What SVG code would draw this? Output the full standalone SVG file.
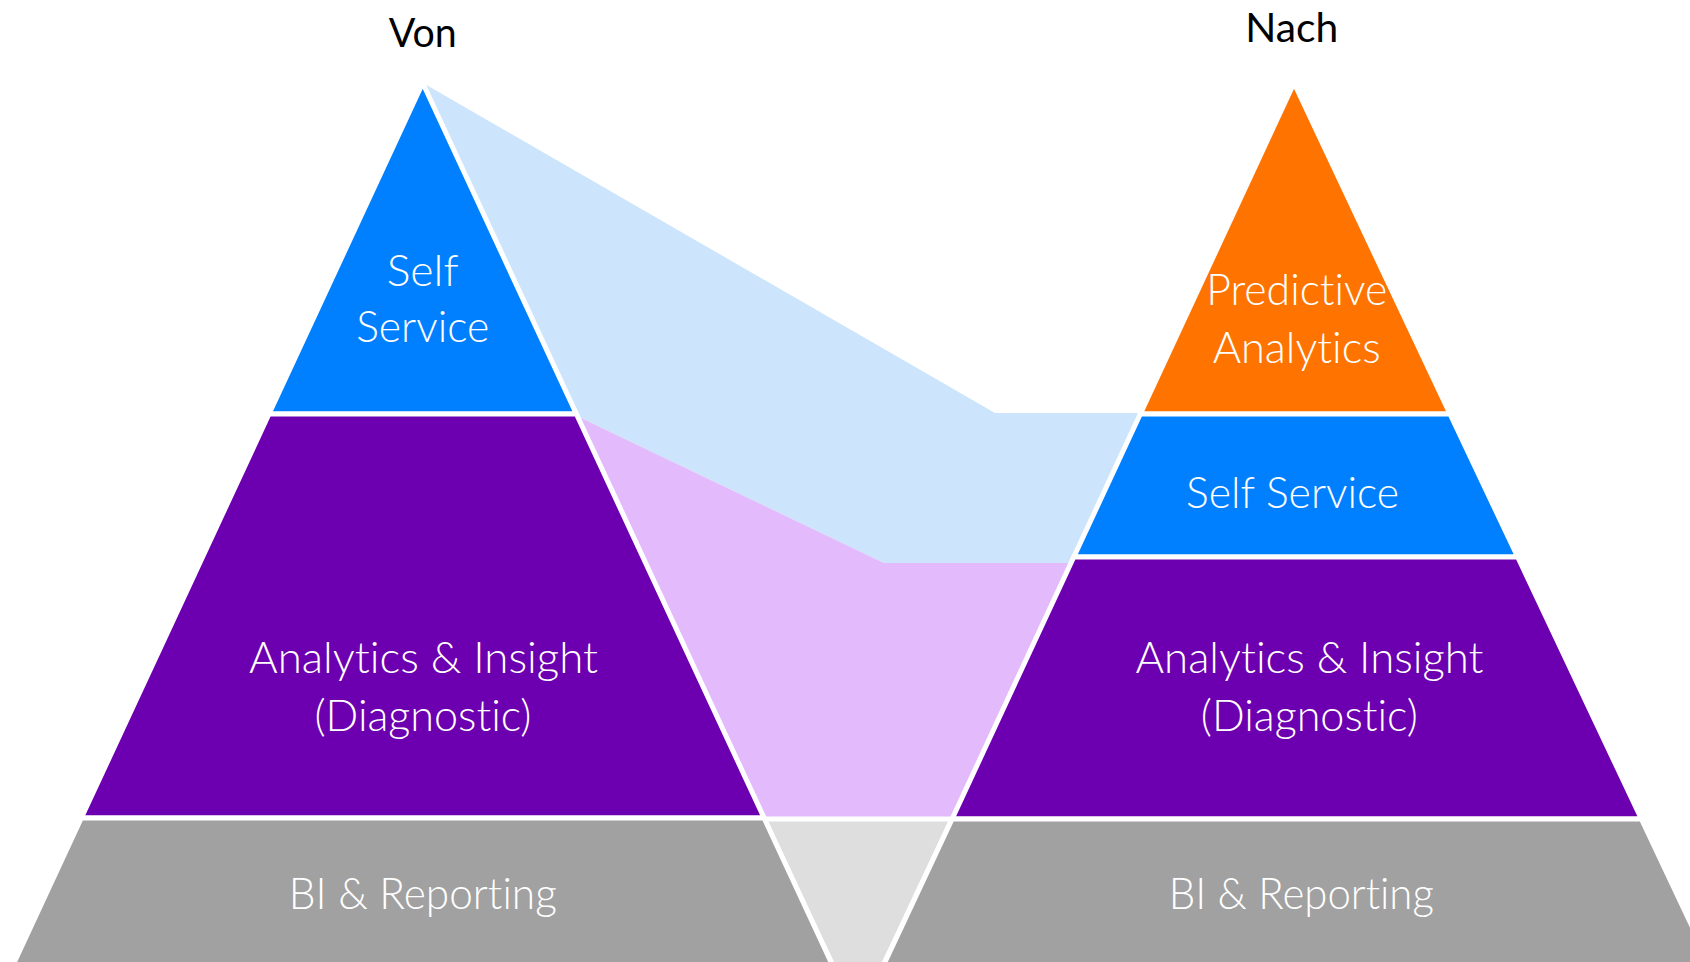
<svg xmlns="http://www.w3.org/2000/svg" width="1690" height="962" viewBox="0 0 1690 962">
<style>
.band{stroke:#fff;stroke-width:5;stroke-linejoin:miter}
.flow{stroke:none}
.lbl{font-family:Lato,"Liberation Sans",Arial,sans-serif;font-weight:300;font-size:43px;fill:#fff;text-anchor:middle;font-variant-ligatures:none}
.ttl{font-family:Lato,"Liberation Sans",Arial,sans-serif;font-weight:400;font-size:41px;fill:#000;text-anchor:middle;font-variant-ligatures:none}
</style>
<rect x="0" y="0" width="1690" height="962" fill="#fff"/>
<g id="connectors">
  <polygon class="flow" points="423,83 995,413 1141,413 1073,563 884,563 579,417" fill="#CCE5FC"/>
  <polygon class="flow" points="579,417 884,563 1073,563 952,819 764,819" fill="#E3BBFC"/>
  <polygon class="band" points="764,819 952,819 881,970 835,970" fill="#DEDEDE"/>
</g>
<g id="von-self-service">
  <polygon class="band" points="422.7,83 576.4,414 269,414" fill="#0080FF"/>
  <text class="lbl" x="422.7" y="285.7" textLength="72" lengthAdjust="spacingAndGlyphs">Self</text>
  <text class="lbl" x="422.7" y="341.7" textLength="133" lengthAdjust="spacingAndGlyphs">Service</text>
</g>
<g id="von-analytics">
  <polygon class="band" points="269,414 576.4,414 764.1,818 81.3,818" fill="#6C00B0"/>
  <text class="lbl" x="423.6" y="673.3" textLength="349" lengthAdjust="spacingAndGlyphs">Analytics &amp; Insight</text>
  <text class="lbl" x="423" y="730.7" textLength="217" lengthAdjust="spacingAndGlyphs">(Diagnostic)</text>
</g>
<g id="von-bi">
  <polygon class="band" points="81.3,818 764.1,818 834.7,970 10.7,970" fill="#A1A1A1"/>
  <text class="lbl" x="422.8" y="909.3" textLength="268" lengthAdjust="spacingAndGlyphs">BI &amp; Reporting</text>
</g>
<g id="nach-predictive">
  <polygon class="band" points="1294,83 1450,414 1140.3,414" fill="#FF7300"/>
  <text class="lbl" x="1296.7" y="305" textLength="181" lengthAdjust="spacingAndGlyphs">Predictive</text>
  <text class="lbl" x="1296.7" y="362.7" textLength="168" lengthAdjust="spacingAndGlyphs">Analytics</text>
</g>
<g id="nach-self-service">
  <polygon class="band" points="1140.3,414 1450,414 1517.7,557 1073.8,557" fill="#0080FF"/>
  <text class="lbl" x="1292.6" y="508" textLength="213" lengthAdjust="spacingAndGlyphs">Self Service</text>
</g>
<g id="nach-analytics">
  <polygon class="band" points="1073.8,557 1517.7,557 1641.4,819 952.1,819" fill="#6C00B0"/>
  <text class="lbl" x="1309.6" y="673.2" textLength="348" lengthAdjust="spacingAndGlyphs">Analytics &amp; Insight</text>
  <text class="lbl" x="1309.3" y="730.8" textLength="217" lengthAdjust="spacingAndGlyphs">(Diagnostic)</text>
</g>
<g id="nach-bi">
  <polygon class="band" points="952.1,819 1641.4,819 1712.7,970 881.3,970" fill="#A1A1A1"/>
  <text class="lbl" x="1301.3" y="909" textLength="265" lengthAdjust="spacingAndGlyphs">BI &amp; Reporting</text>
</g>
<g id="title-von">
  <text class="ttl" x="422.7" y="46.7" textLength="68" lengthAdjust="spacingAndGlyphs">Von</text>
</g>
<g id="title-nach">
  <text class="ttl" x="1291.7" y="41.7" textLength="93" lengthAdjust="spacingAndGlyphs">Nach</text>
</g>
</svg>
